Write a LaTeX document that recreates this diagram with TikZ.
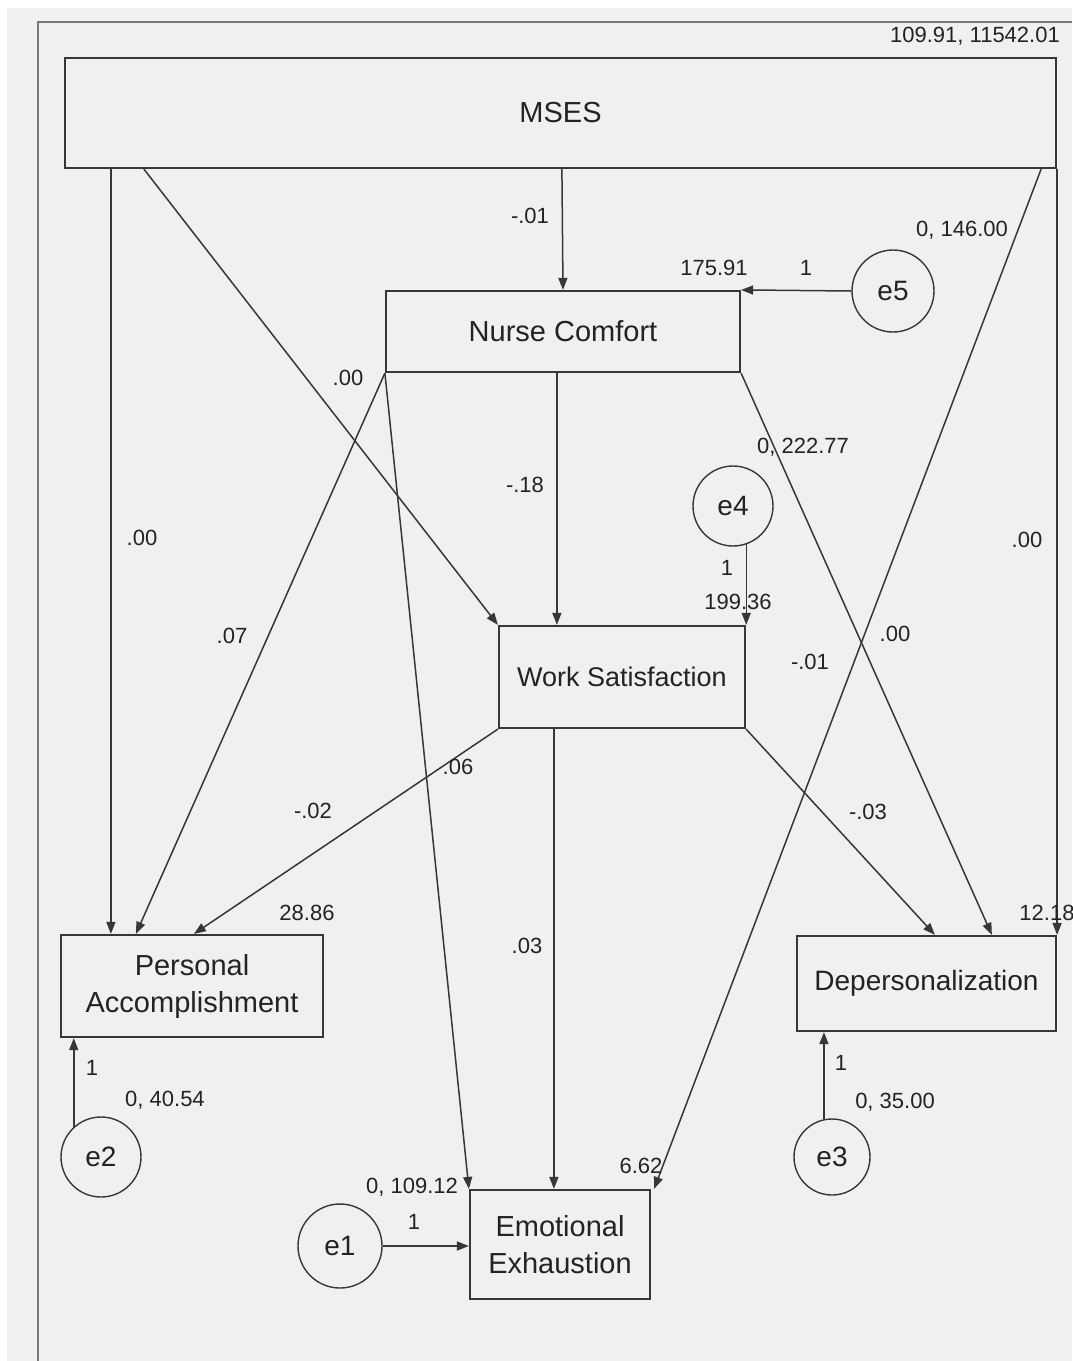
\documentclass[tikz,border=0pt]{standalone}
\usepackage{fontspec}
\setmainfont{Liberation Sans}
\usetikzlibrary{arrows.meta,calc}
\definecolor{bg}{RGB}{240,240,240}
\definecolor{ink}{RGB}{35,35,35}
\definecolor{edge}{RGB}{55,55,55}
\definecolor{framecol}{RGB}{120,120,120}
\begin{document}
\begin{tikzpicture}[x=1pt,y=-1pt,
  var/.style={draw=edge, line width=2.2pt, fill=bg, rectangle, inner sep=0pt,
              align=center, text=ink, font=\fontsize{29}{37}\selectfont},
  err/.style={draw=edge, line width=1.4pt, circle, inner sep=0pt,
              text=ink, font=\fontsize{28}{28}\selectfont},
  path/.style={draw=edge, line width=1.5pt, -{Triangle[length=12pt,width=9pt]}},
  lbl/.style={text=ink, font=\fontsize{22}{22}\selectfont, inner sep=0pt},
]
% canvas and frame
\useasboundingbox (0,0) rectangle (1072,1361);
\fill[white] (0,0) rectangle (1072,1361);
\fill[bg] (7,8) rectangle (1072,1361);
\draw[framecol, line width=1.8pt] (38,1361) -- (38,22) -- (1072,22);

% observed variables
\node[var, minimum width=991pt, minimum height=110pt] (mses) at (560.5,113) {MSES};
\node[var, minimum width=354pt, minimum height=81pt] (nc) at (563,331.5) {Nurse Comfort};
\node[var, minimum width=246pt, minimum height=102pt, font=\fontsize{27}{33}\selectfont] (ws) at (622,677) {Work Satisfaction};
\node[var, minimum width=262pt, minimum height=102pt] (pa) at (192,986) {Personal\\Accomplishment};
\node[var, minimum width=259pt, minimum height=95pt, font=\fontsize{28}{34}\selectfont] (dep) at (926.5,983.5) {Depersonalization};
\node[var, minimum width=180pt, minimum height=109pt] (ee) at (560,1244.5) {Emotional\\Exhaustion};

% error terms
\node[err, minimum size=82pt] (e5) at (893,291) {e5};
\node[err, minimum size=80pt] (e4) at (733,506) {e4};
\node[err, minimum size=80pt] (e2) at (101,1157) {e2};
\node[err, minimum size=76pt] (e3) at (832,1157) {e3};
\node[err, minimum size=84pt] (e1) at (340,1246) {e1};

% paths from MSES
\draw[path] ([xshift=47pt]mses.south west) -- ([xshift=51pt]pa.north west);
\draw[path] ([xshift=80pt]mses.south west) -- (ws.north west);
\draw[path] ([xshift=498pt]mses.south west) -- (nc.north);
\draw[path] ([xshift=-16pt]mses.south east) -- ([xshift=3pt]ee.north east);
\draw[path] (mses.south east) -- (dep.north east);

% paths from Nurse Comfort
\draw[path] (nc.south west) -- ([xshift=76pt]pa.north west);
\draw[path] (nc.south west) -- (ee.north west);
\draw[path] ([xshift=172pt]nc.south west) -- ([xshift=59pt]ws.north west);
\draw[path] (nc.south east) -- ([xshift=196pt]dep.north west);

% paths from Work Satisfaction
\draw[path] (ws.south west) -- ([xshift=134pt]pa.north west);
\draw[path] ([xshift=56pt]ws.south west) -- ([xshift=85pt]ee.north west);
\draw[path] (ws.south east) -- ([xshift=139pt]dep.north west);

% error paths
\draw[path] (e5.west) -- (nc.north east);
\draw[path] (e4.-71) -- (e4.-71 |- ws.north);
\draw[path] (e2.132) -- (e2.132 |- pa.south);
\draw[path] (e3.102) -- (e3.102 |- dep.south);
\draw[path] (e1.east) -- (e1.east -| ee.west);

% estimates
\node[lbl, anchor=east] (t1) at (1060,36) {109.91, 11542.01};
\node[lbl] (t2) at (530,216) {-.01};
\node[lbl] (t3) at (962,230) {0, 146.00};
\node[lbl] (t4) at (714,268) {175.91};
\node[lbl] (t5) at (806,268) {1};
\node[lbl] (t6) at (348,378) {.00};
\node[lbl] (t7) at (803,447) {0, 222.77};
\node[lbl] (t8) at (525,485) {-.18};
\node[lbl] (t9) at (142,538) {.00};
\node[lbl] (t10) at (1027,540) {.00};
\node[lbl] (t11) at (727,568) {1};
\node[lbl] (t12) at (738,602) {199.36};
\node[lbl] (t13) at (232,636) {.07};
\node[lbl] (t14) at (895,634) {.00};
\node[lbl] (t15) at (810,662) {-.01};
\node[lbl] (t16) at (458,767) {.06};
\node[lbl] (t17) at (313,811) {-.02};
\node[lbl] (t18) at (868,812) {-.03};
\node[lbl] (t19) at (307,913) {28.86};
\node[lbl] (t20) at (527,946) {.03};
\node[lbl] (t21) at (1047,913) {12.18};
\node[lbl] (t22) at (92,1068) {1};
\node[lbl] (t23) at (165,1100) {0, 40.54};
\node[lbl] (t24) at (841,1063) {1};
\node[lbl] (t25) at (895,1102) {0, 35.00};
\node[lbl] (t26) at (412,1187) {0, 109.12};
\node[lbl] (t27) at (641,1166) {6.62};
\node[lbl] (t28) at (414,1222) {1};
\end{tikzpicture}
\end{document}
